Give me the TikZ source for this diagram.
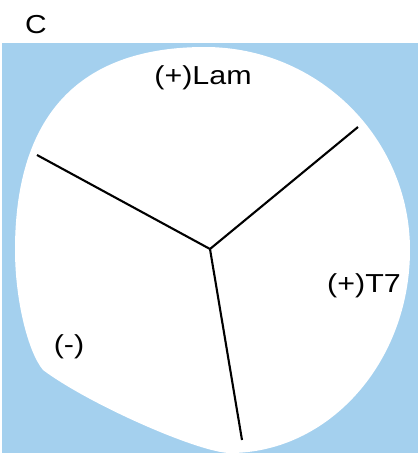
\documentclass[tikz,border=0pt]{standalone}
\usepackage{fontspec}
\setmainfont{Liberation Sans}
\definecolor{bgblue}{RGB}{164,208,238}
\begin{document}
\begin{tikzpicture}[x=1pt,y=-1pt,
  lbl/.style={anchor=base,inner sep=0pt,font=\fontsize{26}{30}\selectfont},
  arm/.style={line width=2.1pt,black}]
\useasboundingbox (0,0) rectangle (418,456);
\fill[white] (0,0) rectangle (418,456);
\fill[bgblue] (2,43) rectangle (418,453);
\fill[white] (205,47)
  .. controls (318,47) and (410,138) .. (410,250)
  .. controls (410,362) and (329,453) .. (230,453)
  .. controls (200,453) and (90,405) .. (43,370)
  .. controls (28,352) and (15,300) .. (15,250)
  .. controls (15,135) and (62,47) .. (205,47) -- cycle;
\coordinate (o) at (210,249);
\coordinate (a) at (37,155);
\coordinate (b) at (358,127);
\coordinate (c) at (242,440);
\draw[arm] (o) -- (a);
\draw[arm] (o) -- (b);
\draw[arm] (o) -- (c);
\node[lbl] (C) at (36,33) {\scalebox{1.15}[1]{C}};
\node[lbl] (lam) at (203,84) {\scalebox{1.17}[1]{(+)Lam}};
\node[lbl] (t7) at (364,292) {\scalebox{1.17}[1]{(+)T7}};
\node[lbl] (neg) at (69,353) {\scalebox{1.17}[1]{(-)}};
\end{tikzpicture}
\end{document}
